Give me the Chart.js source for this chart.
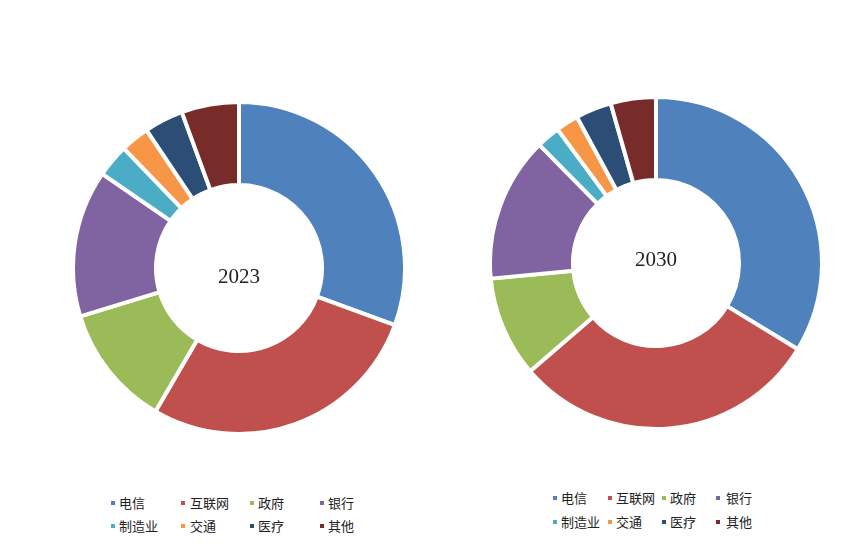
<!DOCTYPE html>
<html>
<head>
<meta charset="utf-8">
<script src="https://cdn.jsdelivr.net/npm/chart.js@4"></script>
<style>
  html, body { margin: 0; padding: 0; background: #ffffff; }
  #wrap { position: relative; width: 858px; height: 558px; overflow: hidden; background: #fff; }
  .cv { position: absolute; }
  .lg { position: absolute; font-family: "Noto Sans CJK SC", sans-serif; font-size: 13px; color: #222; line-height: 16px; white-space: nowrap; }
  .mk { position: absolute; width: 4px; height: 4px; }
</style>
</head>
<body>
<div id="wrap">
  <div class="cv" style="left:71px;top:100px;width:336px;height:336px;"><canvas id="c1"></canvas></div>
  <div class="cv" style="left:488px;top:95px;width:336px;height:336px;"><canvas id="c2"></canvas></div>
</div>
<script>
const categories = ["电信", "互联网", "政府", "银行", "制造业", "交通", "医疗", "其他"];
const values2023 = [30.6, 27.8, 11.9, 14.3, 3.2, 2.8, 3.8, 5.6];
const values2030 = [33.7, 30.0, 9.8, 14.1, 2.3, 2.2, 3.5, 4.4];
const yearLabels = ["2023", "2030"];
const colors = ["#4F81BD", "#C0504D", "#9BBB59", "#8064A2", "#4BACC6", "#F79646", "#2C4D75", "#772C2A"];

function centerText(label, dy) {
  return {
    id: 'centerText',
    afterDraw(chart) {
      const meta = chart.getDatasetMeta(0);
      const arc = meta.data[0];
      if (!arc) return;
      const ctx = chart.ctx;
      ctx.save();
      ctx.font = '21px "Liberation Serif", "Times New Roman", serif';
      ctx.fillStyle = '#222';
      ctx.textAlign = 'center';
      ctx.textBaseline = 'middle';
      ctx.fillText(label, arc.x, arc.y + dy);
      ctx.restore();
    }
  };
}

function makeChart(id, values, label, dy) {
  return new Chart(document.getElementById(id), {
    type: 'doughnut',
    data: {
      labels: categories,
      datasets: [{
        data: values,
        backgroundColor: colors,
        borderColor: '#ffffff',
        borderWidth: 4,
        hoverOffset: 0,
        offset: 0
      }]
    },
    options: {
      responsive: true,
      maintainAspectRatio: false,
      animation: false,
      cutout: '50%',
      layout: { padding: 0 },
      plugins: { legend: { display: false }, tooltip: { enabled: false } }
    },
    plugins: [centerText(label, dy)]
  });
}

makeChart('c1', values2023, yearLabels[0], 9);
makeChart('c2', values2030, yearLabels[1], -2.5);

// HTML legends built from the category arrays
function makeLegend(markX, textX, rowY) {
  const wrap = document.getElementById('wrap');
  categories.forEach((cat, i) => {
    const col = i % 4, row = Math.floor(i / 4);
    const m = document.createElement('div');
    m.className = 'mk';
    m.style.background = colors[i];
    m.style.left = (markX[col] - 2) + 'px';
    m.style.top = (rowY[row] - 2) + 'px';
    wrap.appendChild(m);
    const t = document.createElement('div');
    t.className = 'lg';
    t.textContent = cat;
    t.style.left = textX[col] + 'px';
    t.style.top = (rowY[row] - 8) + 'px';
    wrap.appendChild(t);
  });
}
makeLegend([113, 183, 252, 322], [119, 190, 258, 328], [503, 526]);
makeLegend([555, 610, 664, 718], [561, 616, 670, 726], [498, 522]);
</script>
</body>
</html>
